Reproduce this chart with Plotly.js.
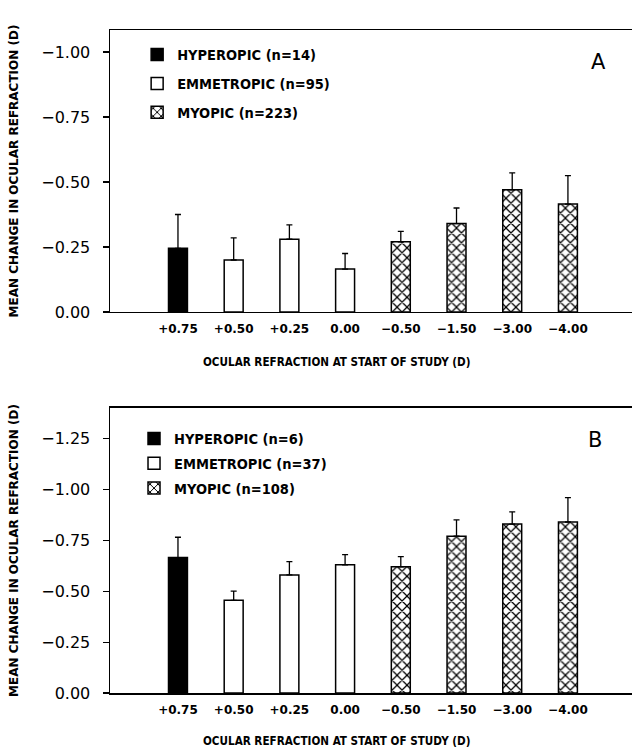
<!DOCTYPE html>
<html>
<head>
<meta charset="utf-8">
<script src="https://cdn.plot.ly/plotly-3.0.1.min.js"></script>
<style>html,body{margin:0;padding:0;background:#fff;}#chart{width:632px;height:754px;}</style>
</head>
<body>
<div id="chart"></div>
<script>
// Categories: ocular refraction at start of study (D)
var categories = ['+0.75', '+0.50', '+0.25', '0.00', '\u22120.50', '\u22121.50', '\u22123.00', '\u22124.00'];
var hyperCats = ['+0.75'];
var emmetCats = ['+0.50', '+0.25', '0.00'];
var myopCats = ['\u22120.50', '\u22121.50', '\u22123.00', '\u22124.00'];

// Panel A: mean change (D) and standard error
var meanA_hyper = [-0.245];
var seA_hyper = [0.13];
var meanA_emmet = [-0.20, -0.28, -0.165];
var seA_emmet = [0.085, 0.055, 0.06];
var meanA_myop = [-0.27, -0.34, -0.47, -0.415];
var seA_myop = [0.04, 0.06, 0.065, 0.11];
var namesA = ['HYPEROPIC (n=14)', 'EMMETROPIC (n=95)', 'MYOPIC (n=223)'];

// Panel B
var meanB_hyper = [-0.665];
var seB_hyper = [0.10];
var meanB_emmet = [-0.455, -0.58, -0.63];
var seB_emmet = [0.045, 0.065, 0.05];
var meanB_myop = [-0.62, -0.77, -0.83, -0.84];
var seB_myop = [0.05, 0.08, 0.06, 0.12];
var namesB = ['HYPEROPIC (n=6)', 'EMMETROPIC (n=37)', 'MYOPIC (n=108)'];

var yTicksA = [0, -0.25, -0.5, -0.75, -1.0];
var yTicksB = [0, -0.25, -0.5, -0.75, -1.0, -1.25];

var xTitle = 'OCULAR REFRACTION AT START OF STUDY (D)';
var yTitle = 'MEAN CHANGE IN OCULAR REFRACTION (D)';

var CONDB = '"DejaVu Sans Condensed", "DejaVu Sans", sans-serif';
var NARROW = '"Liberation Sans Narrow", "DejaVu Sans Condensed", sans-serif';

function errs(se) {
  return {type: 'data', symmetric: false, array: se.map(function () { return 0; }), arrayminus: se,
          color: '#000', thickness: 1.3, width: 3};
}
function styleFor(kind) {
  if (kind === 'hyper') return {color: '#000', line: {color: '#000', width: 1.5}};
  if (kind === 'emmet') return {color: '#fff', line: {color: '#000', width: 1.5}};
  return {color: '#fff', line: {color: '#000', width: 1.5},
          pattern: {shape: 'x', fgcolor: '#000', bgcolor: '#fff', size: 7, solidity: 0.32, fillmode: 'replace'}};
}
function bar(x, y, se, name, kind, xa, ya, leg) {
  return {type: 'bar', x: x, y: y, name: name, xaxis: xa, yaxis: ya, legend: leg,
          legendgroup: leg + kind, width: 0.34, marker: styleFor(kind), error_y: errs(se),
          hoverinfo: 'x+y'};
}

var data = [
  bar(hyperCats, meanA_hyper, seA_hyper, namesA[0], 'hyper', 'x', 'y', 'legend'),
  bar(emmetCats, meanA_emmet, seA_emmet, namesA[1], 'emmet', 'x', 'y', 'legend'),
  bar(myopCats, meanA_myop, seA_myop, namesA[2], 'myop', 'x', 'y', 'legend'),
  bar(hyperCats, meanB_hyper, seB_hyper, namesB[0], 'hyper', 'x2', 'y2', 'legend2'),
  bar(emmetCats, meanB_emmet, seB_emmet, namesB[1], 'emmet', 'x2', 'y2', 'legend2'),
  bar(myopCats, meanB_myop, seB_myop, namesB[2], 'myop', 'x2', 'y2', 'legend2')
];

function xAxis(anchor) {
  return {anchor: anchor, domain: [0, 1], type: 'category', categoryorder: 'array', categoryarray: categories,
          range: [-1.22, 8.15], showline: true, mirror: true, linecolor: '#000', linewidth: 1.5,
          ticks: '', showgrid: false, zeroline: false, fixedrange: true, ticklabelstandoff: 5,
          tickfont: {family: '"DejaVu Sans", sans-serif', size: 12, color: '#000', weight: 'bold'}};
}
function yAxis(anchor, domain, range, ticks) {
  return {anchor: anchor, domain: domain, range: range, tickvals: ticks, tickformat: '.2f',
          ticks: 'outside', ticklen: 6, tickwidth: 1.2, tickcolor: '#000', ticklabelstandoff: 9,
          showline: true, mirror: true, linecolor: '#000', linewidth: 1.5,
          showgrid: false, zeroline: false, fixedrange: true,
          tickfont: {family: '"DejaVu Sans", sans-serif', size: 16, color: '#000'},
          title: {text: yTitle, standoff: 20, font: {family: '"DejaVu Sans", sans-serif', size: 12, color: '#000', weight: 'bold'}}};
}

var legFont = {family: CONDB, size: 14.5, color: '#000', weight: 'bold'};
var xTitleFont = {family: NARROW, size: 11.6, color: '#000', weight: 'bold'};
var panelFont = {family: '"DejaVu Sans", sans-serif', size: 21, color: '#000'};

var layout = {
  width: 632, height: 754,
  margin: {l: 110, r: 0, t: 30, b: 61},
  paper_bgcolor: '#fff', plot_bgcolor: '#fff',
  barmode: 'overlay',
  showlegend: true,
  xaxis: xAxis('y'),
  yaxis: yAxis('x', [0.5747, 1], [0, -1.085], yTicksA),
  xaxis2: xAxis('y2'),
  yaxis2: yAxis('x2', [0, 0.4299], [0, -1.40], yTicksB),
  legend: {x: 0.052, y: 0.987, xanchor: 'left', yanchor: 'top', bgcolor: 'rgba(0,0,0,0)',
           font: legFont, traceorder: 'grouped', tracegroupgap: 7, itemwidth: 30},
  legend2: {x: 0.046, y: 0.408, xanchor: 'left', yanchor: 'top', bgcolor: 'rgba(0,0,0,0)',
            font: legFont, traceorder: 'grouped', tracegroupgap: 3, itemwidth: 30},
  annotations: [
    {text: 'A', xref: 'paper', yref: 'paper', x: 0.935, y: 0.952, showarrow: false,
     xanchor: 'center', yanchor: 'middle', font: panelFont},
    {text: 'B', xref: 'paper', yref: 'paper', x: 0.929, y: 0.3816, showarrow: false,
     xanchor: 'center', yanchor: 'middle', font: panelFont},
    {text: xTitle, xref: 'paper', yref: 'paper', x: 0.435, y: (693 - 362) / 663, showarrow: false,
     xanchor: 'center', yanchor: 'middle', font: xTitleFont},
    {text: xTitle, xref: 'paper', yref: 'paper', x: 0.435, y: (693 - 741) / 663, showarrow: false,
     xanchor: 'center', yanchor: 'middle', font: xTitleFont}
  ]
};

Plotly.newPlot('chart', data, layout, {displayModeBar: false, staticPlot: true});
</script>
</body>
</html>
